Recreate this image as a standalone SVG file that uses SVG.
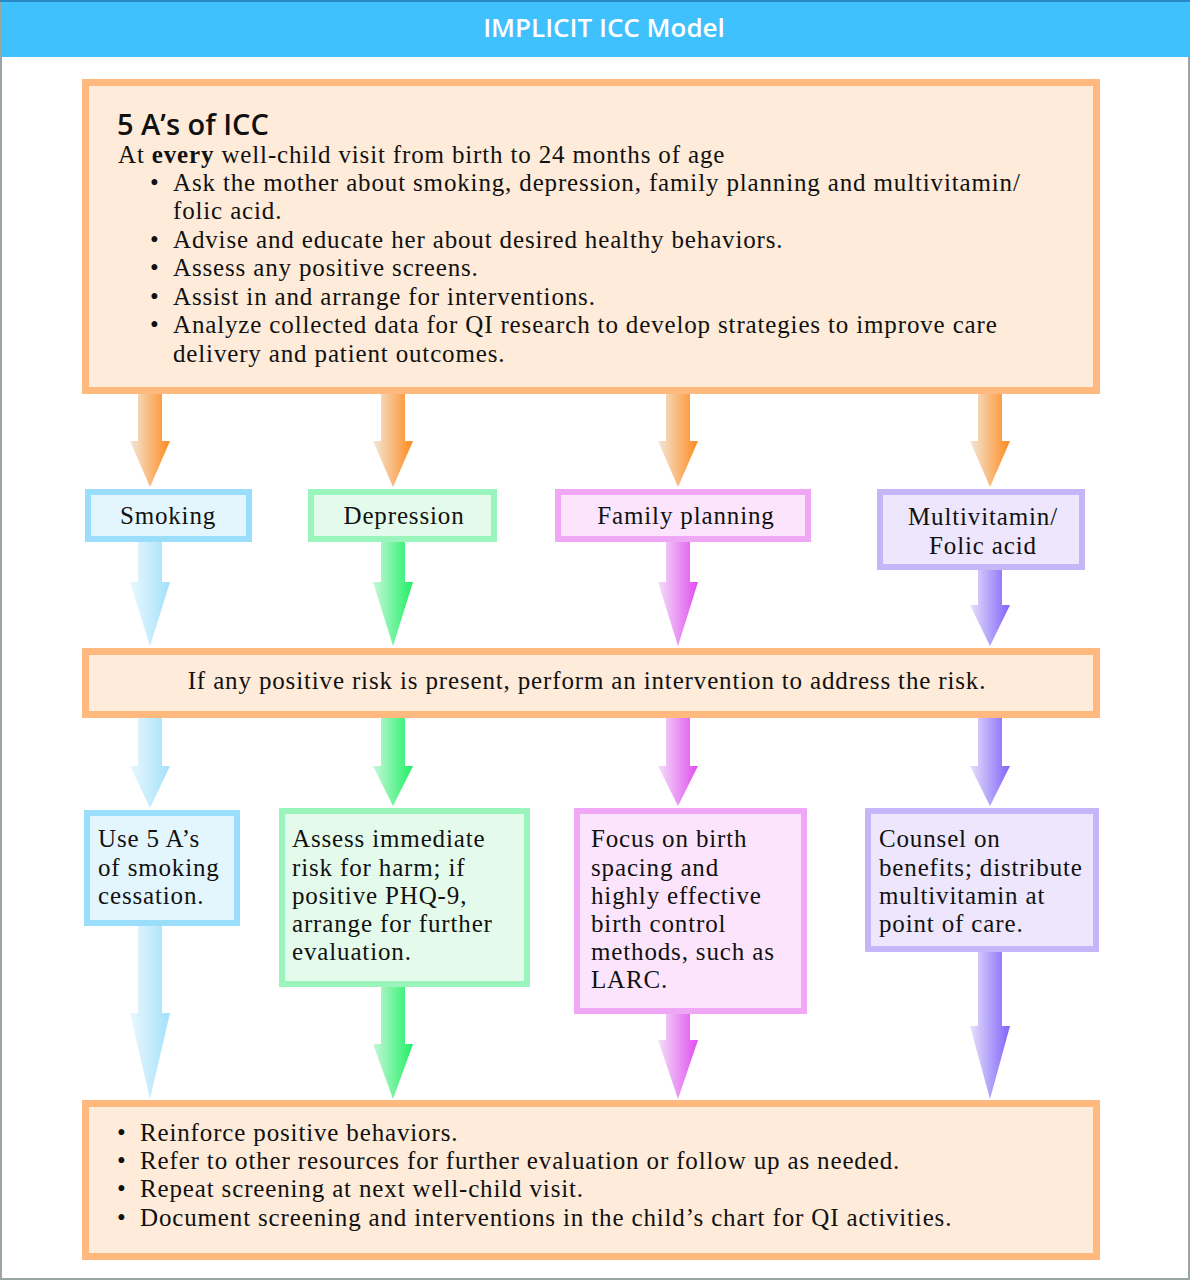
<svg xmlns="http://www.w3.org/2000/svg" width="1190" height="1280" viewBox="0 0 1190 1280">
<style>
.frame{fill:#ffffff;stroke:#9aa6a6;stroke-width:2}
.ob{fill:#feebd9;stroke:#ffb97f;stroke-width:7}
.bl{fill:#e3f6fe;stroke:#9bdefc;stroke-width:6}
.gr{fill:#e4fbeb;stroke:#9af5bd;stroke-width:6}
.pk{fill:#fce5fc;stroke:#f0a8f6;stroke-width:6}
.pu{fill:#ede6fc;stroke:#c5b6fa;stroke-width:6}
.t{font-family:"Liberation Serif","Times New Roman",serif;font-size:25px;letter-spacing:0.85px;fill:#111}
.c{text-anchor:middle}
.h{font-family:"Open Sans","Liberation Sans",sans-serif;font-size:26px;font-weight:600;fill:#ffffff;text-anchor:middle}
.ttl{font-family:"Open Sans","Liberation Sans",sans-serif;font-size:29px;font-weight:600;fill:#111}
.aO{fill:url(#gO)}.aB{fill:url(#gB)}.aG{fill:url(#gG)}.aP{fill:url(#gP)}.aU{fill:url(#gU)}
</style>
<defs>
<linearGradient id="gO" x1="0" y1="0" x2="1" y2="0"><stop offset="0" stop-color="#f2e8da"/><stop offset="1" stop-color="#ff8a1c"/></linearGradient>
<linearGradient id="gB" x1="0" y1="0" x2="1" y2="0"><stop offset="0" stop-color="#eaf8fe"/><stop offset="1" stop-color="#a2e0fb"/></linearGradient>
<linearGradient id="gG" x1="0" y1="0" x2="1" y2="0"><stop offset="0" stop-color="#c8f7d8"/><stop offset="1" stop-color="#1ef065"/></linearGradient>
<linearGradient id="gP" x1="0" y1="0" x2="1" y2="0"><stop offset="0" stop-color="#f4e0f8"/><stop offset="1" stop-color="#e04cf0"/></linearGradient>
<linearGradient id="gU" x1="0" y1="0" x2="1" y2="0"><stop offset="0" stop-color="#e6e2fb"/><stop offset="1" stop-color="#8062fa"/></linearGradient>
</defs>
<rect class="frame" x="1" y="1" width="1188" height="1278"/>
<g id="header">
<rect x="1" y="0" width="1188" height="57" fill="#3fc1fd"/>
<rect x="0" y="0" width="1190" height="2" fill="#2a8ac8"/>
<text class="h" x="604" y="37">IMPLICIT ICC Model</text>
</g>
<g id="connectors">
<path class="aO" d="M138 394 V441 H130 L150 487 L170 441 H162 V394 Z"/>
<path class="aO" d="M381 394 V441 H373 L393 487 L413 441 H405 V394 Z"/>
<path class="aO" d="M666 394 V441 H658 L678 487 L698 441 H690 V394 Z"/>
<path class="aO" d="M978 394 V441 H970 L990 487 L1010 441 H1002 V394 Z"/>
<path class="aB" d="M138 542 V582 H130 L150 646 L170 582 H162 V542 Z"/>
<path class="aG" d="M381 542 V582 H373 L393 646 L413 582 H405 V542 Z"/>
<path class="aP" d="M666 542 V582 H658 L678 646 L698 582 H690 V542 Z"/>
<path class="aU" d="M978 570 V605 H970 L990 646 L1010 605 H1002 V570 Z"/>
<path class="aB" d="M138 718 V766 H130 L150 808 L170 766 H162 V718 Z"/>
<path class="aG" d="M381 718 V766 H373 L393 806 L413 766 H405 V718 Z"/>
<path class="aP" d="M666 718 V766 H658 L678 806 L698 766 H690 V718 Z"/>
<path class="aU" d="M978 718 V766 H970 L990 806 L1010 766 H1002 V718 Z"/>
<path class="aB" d="M138 926 V1013 H130 L150 1099 L170 1013 H162 V926 Z"/>
<path class="aG" d="M381 987 V1044 H373 L393 1099 L413 1044 H405 V987 Z"/>
<path class="aP" d="M666 1014 V1040 H658 L678 1099 L698 1040 H690 V1014 Z"/>
<path class="aU" d="M978 952 V1026 H970 L990 1099 L1010 1026 H1002 V952 Z"/>
</g>
<g id="five-as">
<rect class="ob" x="85.5" y="82.5" width="1011" height="308"/>
<text class="ttl" x="117" y="135">5 A’s of ICC</text>
<text class="t" x="118" y="163">At <tspan font-weight="bold">every</tspan> well-child visit from birth to 24 months of age</text>
<text class="t" x="150" y="191">•</text><text class="t" x="173" y="191">Ask the mother about smoking, depression, family planning and multivitamin/</text>
<text class="t" x="173" y="219">folic acid.</text>
<text class="t" x="150" y="248">•</text><text class="t" x="173" y="248">Advise and educate her about desired healthy behaviors.</text>
<text class="t" x="150" y="276">•</text><text class="t" x="173" y="276">Assess any positive screens.</text>
<text class="t" x="150" y="305">•</text><text class="t" x="173" y="305">Assist in and arrange for interventions.</text>
<text class="t" x="150" y="333">•</text><text class="t" x="173" y="333">Analyze collected data for QI research to develop strategies to improve care</text>
<text class="t" x="173" y="362">delivery and patient outcomes.</text>
</g>
<g id="smoking">
<rect class="bl" x="88" y="492" width="161" height="47"/>
<text class="t c" x="168" y="524">Smoking</text>
</g>
<g id="depression">
<rect class="gr" x="311" y="492" width="183" height="47"/>
<text class="t c" x="404" y="524">Depression</text>
</g>
<g id="family-planning">
<rect class="pk" x="558" y="492" width="250" height="47"/>
<text class="t c" x="686" y="524">Family planning</text>
</g>
<g id="multivitamin">
<rect class="pu" x="880" y="492" width="202" height="75"/>
<text class="t c" x="983" y="525">Multivitamin/</text>
<text class="t c" x="983" y="554">Folic acid</text>
</g>
<g id="intervention">
<rect class="ob" x="85.5" y="651.5" width="1011" height="63"/>
<text class="t c" x="587" y="689">If any positive risk is present, perform an intervention to address the risk.</text>
</g>
<g id="smoking-action">
<rect class="bl" x="87" y="813" width="150" height="110"/>
<text class="t" x="98" y="847">Use 5 A’s</text>
<text class="t" x="98" y="876">of smoking</text>
<text class="t" x="98" y="904">cessation.</text>
</g>
<g id="depression-action">
<rect class="gr" x="282" y="811" width="245" height="173"/>
<text class="t" x="292" y="847">Assess immediate</text>
<text class="t" x="292" y="876">risk for harm; if</text>
<text class="t" x="292" y="904">positive PHQ-9,</text>
<text class="t" x="292" y="932">arrange for further</text>
<text class="t" x="292" y="960">evaluation.</text>
</g>
<g id="family-action">
<rect class="pk" x="577" y="811" width="227" height="200"/>
<text class="t" x="591" y="847">Focus on birth</text>
<text class="t" x="591" y="876">spacing and</text>
<text class="t" x="591" y="904">highly effective</text>
<text class="t" x="591" y="932">birth control</text>
<text class="t" x="591" y="960">methods, such as</text>
<text class="t" x="591" y="988">LARC.</text>
</g>
<g id="multivitamin-action">
<rect class="pu" x="868" y="811" width="228" height="138"/>
<text class="t" x="879" y="847">Counsel on</text>
<text class="t" x="879" y="876">benefits; distribute</text>
<text class="t" x="879" y="904">multivitamin at</text>
<text class="t" x="879" y="932">point of care.</text>
</g>
<g id="follow-up">
<rect class="ob" x="85.5" y="1103.5" width="1011" height="153"/>
<text class="t" x="117" y="1141">•</text><text class="t" x="140" y="1141">Reinforce positive behaviors.</text>
<text class="t" x="117" y="1169">•</text><text class="t" x="140" y="1169">Refer to other resources for further evaluation or follow up as needed.</text>
<text class="t" x="117" y="1197">•</text><text class="t" x="140" y="1197">Repeat screening at next well-child visit.</text>
<text class="t" x="117" y="1226">•</text><text class="t" x="140" y="1226">Document screening and interventions in the child’s chart for QI activities.</text>
</g>
</svg>
